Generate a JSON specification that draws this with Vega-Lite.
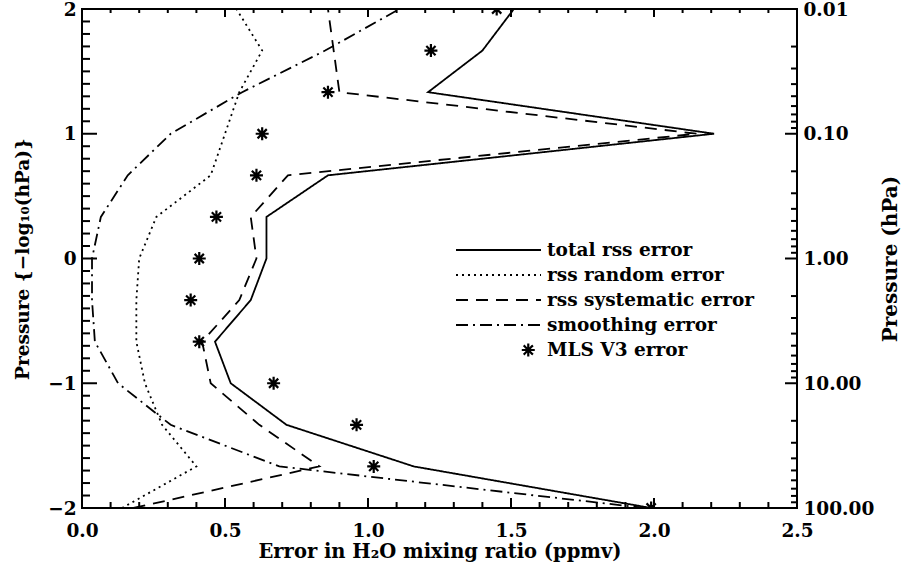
{
  "$schema": "https://vega.github.io/schema/vega-lite/v6.json",
  "width": 715,
  "height": 499,
  "autosize": {"type": "none"},
  "padding": {"left": 82, "top": 9, "right": 106, "bottom": 61},
  "background": "white",
  "config": {
    "view": {"stroke": "black", "strokeWidth": 2},
    "font": "DejaVu Serif",
    "axis": {
      "domain": false,
      "ticks": false,
      "grid": false,
      "labelColor": "black",
      "labelFont": "DejaVu Serif",
      "labelFontWeight": "bold",
      "labelFontSize": 18.5,
      "labelOverlap": false,
      "labelFlush": false,
      "labelBound": false,
      "titleColor": "black",
      "titleFont": "DejaVu Serif",
      "titleFontWeight": "bold",
      "titleFontSize": 18.5
    }
  },
  "datasets": {
    "profiles": [
      {"series": "total rss error", "x": 1.51, "y": 2},
      {"series": "total rss error", "x": 1.40, "y": 1.6667},
      {"series": "total rss error", "x": 1.21, "y": 1.3333},
      {"series": "total rss error", "x": 2.21, "y": 1},
      {"series": "total rss error", "x": 0.86, "y": 0.6667},
      {"series": "total rss error", "x": 0.645, "y": 0.3333},
      {"series": "total rss error", "x": 0.645, "y": 0},
      {"series": "total rss error", "x": 0.59, "y": -0.3333},
      {"series": "total rss error", "x": 0.465, "y": -0.6667},
      {"series": "total rss error", "x": 0.52, "y": -1},
      {"series": "total rss error", "x": 0.715, "y": -1.3333},
      {"series": "total rss error", "x": 1.16, "y": -1.6667},
      {"series": "total rss error", "x": 1.99, "y": -2},
      {"series": "rss random error", "x": 0.54, "y": 2},
      {"series": "rss random error", "x": 0.63, "y": 1.6667},
      {"series": "rss random error", "x": 0.55, "y": 1.3333},
      {"series": "rss random error", "x": 0.50, "y": 1},
      {"series": "rss random error", "x": 0.45, "y": 0.6667},
      {"series": "rss random error", "x": 0.26, "y": 0.3333},
      {"series": "rss random error", "x": 0.20, "y": 0},
      {"series": "rss random error", "x": 0.19, "y": -0.3333},
      {"series": "rss random error", "x": 0.19, "y": -0.6667},
      {"series": "rss random error", "x": 0.22, "y": -1},
      {"series": "rss random error", "x": 0.28, "y": -1.3333},
      {"series": "rss random error", "x": 0.40, "y": -1.6667},
      {"series": "rss random error", "x": 0.14, "y": -2},
      {"series": "rss systematic error", "x": 0.86, "y": 2},
      {"series": "rss systematic error", "x": 0.88, "y": 1.6667},
      {"series": "rss systematic error", "x": 0.90, "y": 1.3333},
      {"series": "rss systematic error", "x": 2.15, "y": 1},
      {"series": "rss systematic error", "x": 0.72, "y": 0.6667},
      {"series": "rss systematic error", "x": 0.59, "y": 0.3333},
      {"series": "rss systematic error", "x": 0.61, "y": 0},
      {"series": "rss systematic error", "x": 0.55, "y": -0.3333},
      {"series": "rss systematic error", "x": 0.42, "y": -0.6667},
      {"series": "rss systematic error", "x": 0.45, "y": -1},
      {"series": "rss systematic error", "x": 0.62, "y": -1.3333},
      {"series": "rss systematic error", "x": 0.83, "y": -1.6667},
      {"series": "rss systematic error", "x": 0.18, "y": -2},
      {"series": "smoothing error", "x": 1.11, "y": 2},
      {"series": "smoothing error", "x": 0.85, "y": 1.6667},
      {"series": "smoothing error", "x": 0.56, "y": 1.3333},
      {"series": "smoothing error", "x": 0.31, "y": 1},
      {"series": "smoothing error", "x": 0.16, "y": 0.6667},
      {"series": "smoothing error", "x": 0.066, "y": 0.3333},
      {"series": "smoothing error", "x": 0.035, "y": 0},
      {"series": "smoothing error", "x": 0.035, "y": -0.3333},
      {"series": "smoothing error", "x": 0.045, "y": -0.6667},
      {"series": "smoothing error", "x": 0.126, "y": -1},
      {"series": "smoothing error", "x": 0.31, "y": -1.3333},
      {"series": "smoothing error", "x": 0.69, "y": -1.6667},
      {"series": "smoothing error", "x": 1.97, "y": -2}
    ],
    "mls": [
      {"x": 1.45, "y": 2},
      {"x": 1.22, "y": 1.6667},
      {"x": 0.86, "y": 1.3333},
      {"x": 0.63, "y": 1},
      {"x": 0.61, "y": 0.6667},
      {"x": 0.47, "y": 0.3333},
      {"x": 0.41, "y": 0},
      {"x": 0.38, "y": -0.3333},
      {"x": 0.41, "y": -0.6667},
      {"x": 0.67, "y": -1},
      {"x": 0.96, "y": -1.3333},
      {"x": 1.02, "y": -1.6667},
      {"x": 1.99, "y": -2}
    ],
    "xTicks": [
      {"v": 0, "k": "major"}, {"v": 0.1, "k": "minor"}, {"v": 0.2, "k": "minor"}, {"v": 0.3, "k": "minor"}, {"v": 0.4, "k": "minor"},
      {"v": 0.5, "k": "major"}, {"v": 0.6, "k": "minor"}, {"v": 0.7, "k": "minor"}, {"v": 0.8, "k": "minor"}, {"v": 0.9, "k": "minor"},
      {"v": 1, "k": "major"}, {"v": 1.1, "k": "minor"}, {"v": 1.2, "k": "minor"}, {"v": 1.3, "k": "minor"}, {"v": 1.4, "k": "minor"},
      {"v": 1.5, "k": "major"}, {"v": 1.6, "k": "minor"}, {"v": 1.7, "k": "minor"}, {"v": 1.8, "k": "minor"}, {"v": 1.9, "k": "minor"},
      {"v": 2, "k": "major"}, {"v": 2.1, "k": "minor"}, {"v": 2.2, "k": "minor"}, {"v": 2.3, "k": "minor"}, {"v": 2.4, "k": "minor"},
      {"v": 2.5, "k": "major"}
    ],
    "leftTicks": [
      {"v": -2, "k": "major"}, {"v": -1.9, "k": "minor"}, {"v": -1.8, "k": "minor"}, {"v": -1.7, "k": "minor"}, {"v": -1.6, "k": "minor"},
      {"v": -1.5, "k": "minor"}, {"v": -1.4, "k": "minor"}, {"v": -1.3, "k": "minor"}, {"v": -1.2, "k": "minor"}, {"v": -1.1, "k": "minor"},
      {"v": -1, "k": "major"}, {"v": -0.9, "k": "minor"}, {"v": -0.8, "k": "minor"}, {"v": -0.7, "k": "minor"}, {"v": -0.6, "k": "minor"},
      {"v": -0.5, "k": "minor"}, {"v": -0.4, "k": "minor"}, {"v": -0.3, "k": "minor"}, {"v": -0.2, "k": "minor"}, {"v": -0.1, "k": "minor"},
      {"v": 0, "k": "major"}, {"v": 0.1, "k": "minor"}, {"v": 0.2, "k": "minor"}, {"v": 0.3, "k": "minor"}, {"v": 0.4, "k": "minor"},
      {"v": 0.5, "k": "minor"}, {"v": 0.6, "k": "minor"}, {"v": 0.7, "k": "minor"}, {"v": 0.8, "k": "minor"}, {"v": 0.9, "k": "minor"},
      {"v": 1, "k": "major"}, {"v": 1.1, "k": "minor"}, {"v": 1.2, "k": "minor"}, {"v": 1.3, "k": "minor"}, {"v": 1.4, "k": "minor"},
      {"v": 1.5, "k": "minor"}, {"v": 1.6, "k": "minor"}, {"v": 1.7, "k": "minor"}, {"v": 1.8, "k": "minor"}, {"v": 1.9, "k": "minor"},
      {"v": 2, "k": "major"}
    ],
    "rightTicks": [
      {"v": 2, "k": "major"}, {"v": 1.69897, "k": "minor"}, {"v": 1.52288, "k": "minor"}, {"v": 1.39794, "k": "minor"}, {"v": 1.30103, "k": "minor"},
      {"v": 1.22185, "k": "minor"}, {"v": 1.1549, "k": "minor"}, {"v": 1.09691, "k": "minor"}, {"v": 1.04576, "k": "minor"},
      {"v": 1, "k": "major"}, {"v": 0.69897, "k": "minor"}, {"v": 0.52288, "k": "minor"}, {"v": 0.39794, "k": "minor"}, {"v": 0.30103, "k": "minor"},
      {"v": 0.22185, "k": "minor"}, {"v": 0.1549, "k": "minor"}, {"v": 0.09691, "k": "minor"}, {"v": 0.04576, "k": "minor"},
      {"v": 0, "k": "major"}, {"v": -0.30103, "k": "minor"}, {"v": -0.47712, "k": "minor"}, {"v": -0.60206, "k": "minor"}, {"v": -0.69897, "k": "minor"},
      {"v": -0.77815, "k": "minor"}, {"v": -0.8451, "k": "minor"}, {"v": -0.90309, "k": "minor"}, {"v": -0.95424, "k": "minor"},
      {"v": -1, "k": "major"}, {"v": -1.30103, "k": "minor"}, {"v": -1.47712, "k": "minor"}, {"v": -1.60206, "k": "minor"}, {"v": -1.69897, "k": "minor"},
      {"v": -1.77815, "k": "minor"}, {"v": -1.8451, "k": "minor"}, {"v": -1.90309, "k": "minor"}, {"v": -1.95424, "k": "minor"},
      {"v": -2, "k": "major"}
    ]
  },
  "layer": [
    {
      "data": {"name": "profiles"},
      "mark": {"type": "line", "color": "black", "strokeWidth": 1.8, "clip": true},
      "encoding": {
        "x": {
          "field": "x", "type": "quantitative",
          "scale": {"domain": [0, 2.5], "nice": false, "zero": false},
          "axis": {
            "orient": "bottom",
            "title": "Error in H\u2082O mixing ratio (ppmv)",
            "titleFontSize": 19.5,
            "titleX": 357.5, "titleY": 43, "titleBaseline": "middle", "titleAlign": "center",
            "values": [0, 0.5, 1, 1.5, 2, 2.5],
            "format": ".1f",
            "labelPadding": 13
          }
        },
        "y": {
          "field": "y", "type": "quantitative",
          "scale": {"domain": [-2, 2], "nice": false, "zero": false},
          "axis": {
            "orient": "left",
            "title": "Pressure {\u2212log\u2081\u2080(hPa)}",
            "titleAngle": 270, "titleX": -60, "titleY": 249.5, "titleBaseline": "middle", "titleAlign": "center",
            "values": [-2, -1, 0, 1, 2],
            "format": "d",
            "labelPadding": 6
          }
        },
        "order": {"field": "y", "type": "quantitative"},
        "strokeDash": {
          "field": "series", "type": "nominal",
          "scale": {
            "domain": ["total rss error", "rss random error", "rss systematic error", "smoothing error", "MLS V3 error"],
            "range": [[1, 0], [2, 4], [12, 8], [12, 5, 2, 5], [1, 0]]
          },
          "legend": {
            "orient": "none", "legendX": 373, "legendY": 231.5,
            "title": null, "padding": 0,
            "symbolType": "stroke", "symbolSize": 7225, "symbolStrokeWidth": 1.8, "symbolStrokeColor": "black",
            "labelFont": "DejaVu Serif", "labelFontWeight": "bold", "labelFontSize": 18.5, "labelColor": "black",
            "labelOffset": 5, "labelLimit": 400, "rowPadding": 6, "clipHeight": 19,
            "encode": {
              "symbols": {
                "update": {
                  "shape": {"signal": "(datum.value === 'MLS V3 error' ? 'M4.58,-1L4.58,1M3.58,0L5.58,0M3.87,-0.71L5.29,0.71M3.87,0.71L5.29,-0.71' : 'stroke')"},
                  "size": {"signal": "(datum.value === 'MLS V3 error' ? 169 : 7225)"},
                  "strokeWidth": {"signal": "(datum.value === 'MLS V3 error' ? 2.2 : 1.8)"}
                }
              }
            }
          }
        }
      }
    },
    {
      "data": {"name": "mls"},
      "mark": {
        "type": "point", "filled": false, "stroke": "black", "strokeWidth": 2.2, "size": 169, "opacity": 1, "clip": true,
        "shape": "M0,-1L0,1M-1,0L1,0M-0.71,-0.71L0.71,0.71M-0.71,0.71L0.71,-0.71"
      },
      "encoding": {
        "x": {"field": "x", "type": "quantitative", "axis": null},
        "y": {
          "field": "y", "type": "quantitative",
          "axis": {
            "orient": "right",
            "title": "Pressure (hPa)",
            "titleFontSize": 20,
            "titleAngle": 270, "titleX": 93, "titleY": 249.5, "titleBaseline": "middle", "titleAlign": "center",
            "values": [-2, -1, 0, 1, 2],
            "labelExpr": "format(pow(10, -datum.value), '.2f')",
            "labelAlign": "left",
            "labelPadding": 6
          }
        }
      }
    },
    {
      "data": {"name": "leftTicks"},
      "transform": [{"filter": "datum.k === 'major'"}],
      "mark": {"type": "rule", "color": "black", "strokeWidth": 2},
      "encoding": {
        "y": {"field": "v", "type": "quantitative", "axis": null},
        "x": {"datum": 0, "type": "quantitative", "axis": null},
        "x2": {"datum": 0.0524}
      }
    },
    {
      "data": {"name": "leftTicks"},
      "transform": [{"filter": "datum.k === 'minor'"}],
      "mark": {"type": "rule", "color": "black", "strokeWidth": 2},
      "encoding": {
        "y": {"field": "v", "type": "quantitative", "axis": null},
        "x": {"datum": 0, "type": "quantitative", "axis": null},
        "x2": {"datum": 0.028}
      }
    },
    {
      "data": {"name": "rightTicks"},
      "transform": [{"filter": "datum.k === 'major'"}],
      "mark": {"type": "rule", "color": "black", "strokeWidth": 2},
      "encoding": {
        "y": {"field": "v", "type": "quantitative", "axis": null},
        "x": {"datum": 2.458, "type": "quantitative", "axis": null},
        "x2": {"datum": 2.5}
      }
    },
    {
      "data": {"name": "rightTicks"},
      "transform": [{"filter": "datum.k === 'minor'"}],
      "mark": {"type": "rule", "color": "black", "strokeWidth": 2},
      "encoding": {
        "y": {"field": "v", "type": "quantitative", "axis": null},
        "x": {"datum": 2.479, "type": "quantitative", "axis": null},
        "x2": {"datum": 2.5}
      }
    },
    {
      "data": {"name": "xTicks"},
      "transform": [{"filter": "datum.k === 'major'"}],
      "mark": {"type": "rect", "color": "black", "width": 2},
      "encoding": {
        "x": {"field": "v", "type": "quantitative", "axis": null},
        "y": {"datum": -2, "type": "quantitative", "axis": null},
        "y2": {"datum": -1.92}
      }
    },
    {
      "data": {"name": "xTicks"},
      "transform": [{"filter": "datum.k === 'minor'"}],
      "mark": {"type": "rect", "color": "black", "width": 2},
      "encoding": {
        "x": {"field": "v", "type": "quantitative", "axis": null},
        "y": {"datum": -2, "type": "quantitative", "axis": null},
        "y2": {"datum": -1.952}
      }
    },
    {
      "data": {"name": "xTicks"},
      "transform": [{"filter": "datum.k === 'major'"}],
      "mark": {"type": "rect", "color": "black", "width": 2},
      "encoding": {
        "x": {"field": "v", "type": "quantitative", "axis": null},
        "y": {"datum": 1.936, "type": "quantitative", "axis": null},
        "y2": {"datum": 2}
      }
    },
    {
      "data": {"name": "xTicks"},
      "transform": [{"filter": "datum.k === 'minor'"}],
      "mark": {"type": "rect", "color": "black", "width": 2},
      "encoding": {
        "x": {"field": "v", "type": "quantitative", "axis": null},
        "y": {"datum": 1.968, "type": "quantitative", "axis": null},
        "y2": {"datum": 2}
      }
    }
  ],
  "resolve": {"axis": {"x": "independent", "y": "independent"}}
}
